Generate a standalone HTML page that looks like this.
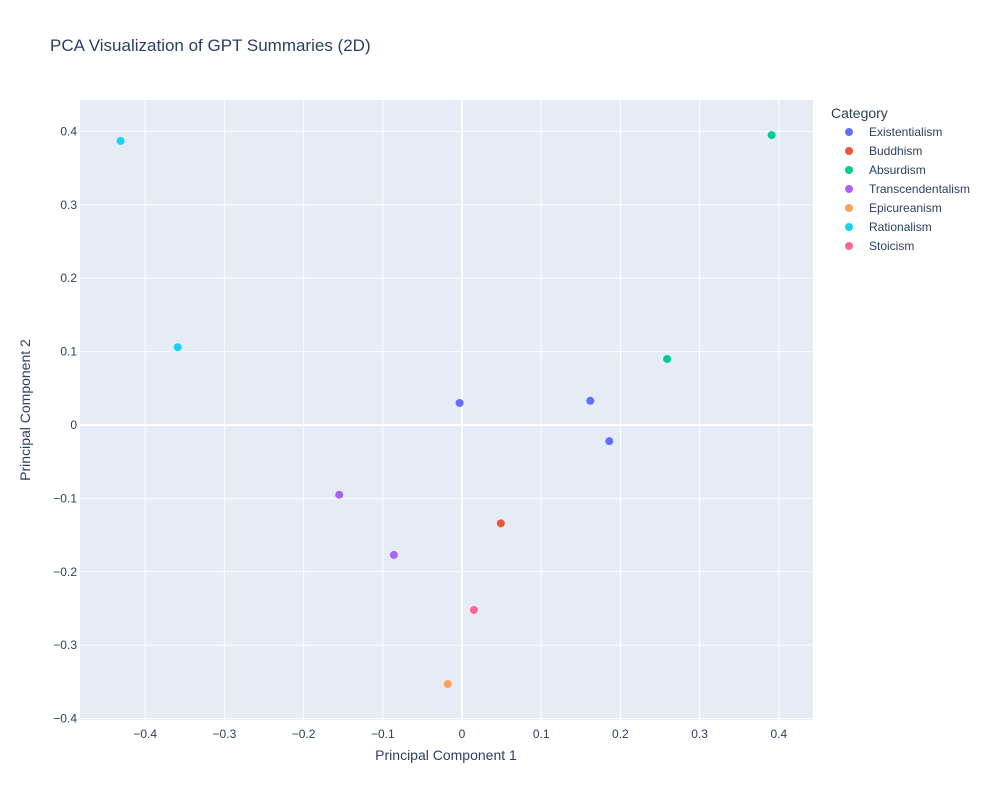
<!DOCTYPE html>
<html><head><meta charset="utf-8"><style>
body{margin:0;background:#fff;}
svg text{font-family:"Liberation Sans",Arial,sans-serif;fill:#2a3f5f;}
</style></head><body>
<svg id="chart" width="1000" height="800" xmlns="http://www.w3.org/2000/svg">
<text x="50" y="51" font-size="17">PCA Visualization of GPT Summaries (2D)</text>
<rect x="80" y="100" width="733" height="620" fill="#E5ECF6"/>
<g id="grid"></g><g id="points"></g><g id="legend"></g>
<text x="446" y="760" font-size="14" text-anchor="middle">Principal Component 1</text>
<text x="30" y="410" font-size="14" text-anchor="middle" transform="rotate(-90 30 410)">Principal Component 2</text>
</svg>
<script>
const categories=["Existentialism","Buddhism","Absurdism","Transcendentalism","Epicureanism","Rationalism","Stoicism"];
const colors=["#636efa","#EF553B","#00cc96","#ab63fa","#FFA15A","#19d3f3","#FF6692"];
const pointCats=["Rationalism","Rationalism","Absurdism","Absurdism","Existentialism","Existentialism","Existentialism","Transcendentalism","Transcendentalism","Buddhism","Stoicism","Epicureanism"];
const pc1=[-0.431,-0.359,0.391,0.259,-0.003,0.162,0.186,-0.155,-0.086,0.049,0.015,-0.018];
const pc2=[0.387,0.106,0.395,0.090,0.030,0.033,-0.022,-0.095,-0.177,-0.134,-0.252,-0.353];
const xTicks=[-0.4,-0.3,-0.2,-0.1,0,0.1,0.2,0.3,0.4];
const yTicks=[-0.4,-0.3,-0.2,-0.1,0,0.1,0.2,0.3,0.4];
const NS="http://www.w3.org/2000/svg";
const X=v=>462+v*792, Y=v=>425-v*734;
function mk(t,a,p){const e=document.createElementNS(NS,t);for(const k in a)e.setAttribute(k,a[k]);p.appendChild(e);return e;}
const fmt=v=>v===0?"0":(v<0?"\u2212"+Math.abs(v).toFixed(1):v.toFixed(1));
const grid=document.getElementById('grid');
xTicks.forEach(v=>{const x=X(v);
 const l=mk('line',{x1:x,x2:x,y1:100,y2:720,stroke:'#fff','stroke-width':v===0?2:1},grid);
 
 
 const t=mk('text',{x:x,y:738,'font-size':12,'text-anchor':'middle'},grid);t.textContent=fmt(v);
 
 });
yTicks.forEach(v=>{const y=Y(v);
 const l=mk('line',{x1:80,x2:813,y1:y,y2:y,stroke:'#fff','stroke-width':v===0?2:1},grid);
 
 
 const t=mk('text',{x:77,y:y+4,'font-size':12,'text-anchor':'end'},grid);t.textContent=fmt(v);
 
 });
const pts=document.getElementById('points');
pc1.forEach((v,i)=>{const c=mk('circle',{cx:X(v),cy:Y(pc2[i]),r:4,fill:colors[categories.indexOf(pointCats[i])]},pts);
 
 });
const lg=document.getElementById('legend');
const lt=mk('text',{x:831,y:118,'font-size':14},lg);lt.textContent="Category";


categories.forEach((c,i)=>{const y=132+i*19;
 const g=mk('g',{},lg);
 
 
 mk('circle',{cx:849,cy:y,r:4,fill:colors[i]},g);
 const t=mk('text',{x:869,y:y+4,'font-size':12},g);t.textContent=c;});
</script>
</body></html>
